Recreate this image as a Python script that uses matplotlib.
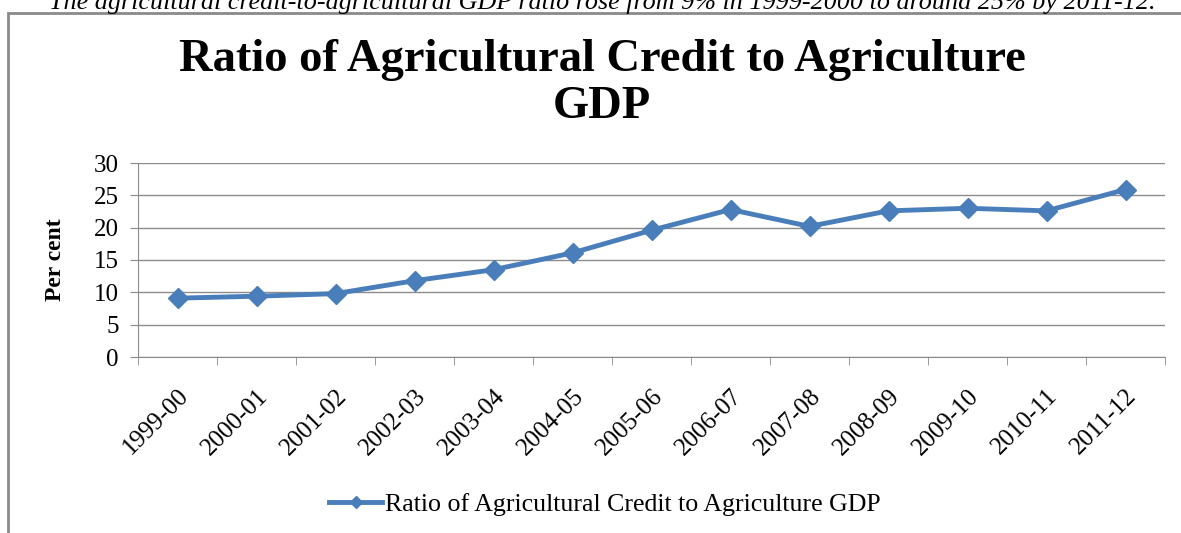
import numpy as np
import matplotlib.pyplot as plt
from matplotlib.patches import Rectangle

years = ['1999-00', '2000-01', '2001-02', '2002-03', '2003-04', '2004-05', '2005-06',
         '2006-07', '2007-08', '2008-09', '2009-10', '2010-11', '2011-12']
ratio = [9.1, 9.4, 9.8, 11.8, 13.5, 16.1, 19.6, 22.8, 20.2, 22.6, 23.0, 22.6, 25.9]
yticks = [0, 5, 10, 15, 20, 25, 30]

serif = ['Liberation Serif', 'DejaVu Serif']
blue = '#4a7ebb'
grey = '#8c8c8c'

W, H = 1181, 533
fig = plt.figure(figsize=(W / 100, H / 100), dpi=100)

# outer chart frame
fig.patches.append(Rectangle((7.5 / W, -0.05), 1.1, 1 - 13 / H + 0.05,
                             transform=fig.transFigure, fill=False,
                             edgecolor='#8a8a8a', linewidth=2))

# sentence above the chart, cut by the top edge (as in the source)
fig.text(602 / W, 1 - 9 / H,
         'The agricultural credit-to-agricultural GDP ratio rose from 9% in 1999-2000 to around 25% by 2011-12.',
         ha='center', va='baseline', family=serif, style='italic', fontsize=18.8)

ax = fig.add_axes([138 / W, 1 - 357 / H, (1165 - 138) / W, (357 - 163) / H])

x = np.arange(len(years))
ax.plot(x, ratio, color=blue, linewidth=3.5, marker='D', markersize=10,
        label='Ratio of Agricultural Credit to Agriculture GDP', zorder=3)

ax.set_xlim(-0.5, len(years) - 0.5)
ax.set_ylim(0, 30)
ax.set_yticks(yticks)
ax.set_yticklabels([str(v) for v in yticks], family=serif, fontsize=18)
ax.set_xticks(x)
ax.set_xticklabels(years, rotation=45, ha='right', rotation_mode='anchor',
                   family=serif, fontsize=18)
ax.tick_params(axis='x', which='major', length=0, pad=20)
ax.set_xticks(np.arange(-0.5, len(years)), minor=True)
ax.tick_params(axis='x', which='minor', length=6, color=grey, direction='out')
ax.tick_params(axis='y', length=6, color=grey, pad=8)

ax.grid(axis='y', color=grey, linewidth=1)
ax.set_axisbelow(True)
for s in ['top', 'right']:
    ax.spines[s].set_visible(False)
for s in ['left', 'bottom']:
    ax.spines[s].set_color(grey)

ax.set_ylabel('Per cent', family=serif, fontweight='bold', fontsize=17)
ax.yaxis.set_label_coords((66 - 138) / (1165 - 138), 0.5)

fig.text(602 / W, 1 - 60 / H, 'Ratio of Agricultural Credit to Agriculture',
         ha='center', va='center', family=serif, fontweight='bold', fontsize=33.5)
fig.text(602 / W, 1 - 107 / H, 'GDP',
         ha='center', va='center', family=serif, fontweight='bold', fontsize=33.5)

fig.legend(loc='center', bbox_to_anchor=(605 / W, 1 - 504 / H), frameon=False,
           prop={'family': serif, 'size': 18.6}, handlelength=2.05, handletextpad=0.1,
           markerscale=0.6)

fig.savefig('out.png', dpi=100)
